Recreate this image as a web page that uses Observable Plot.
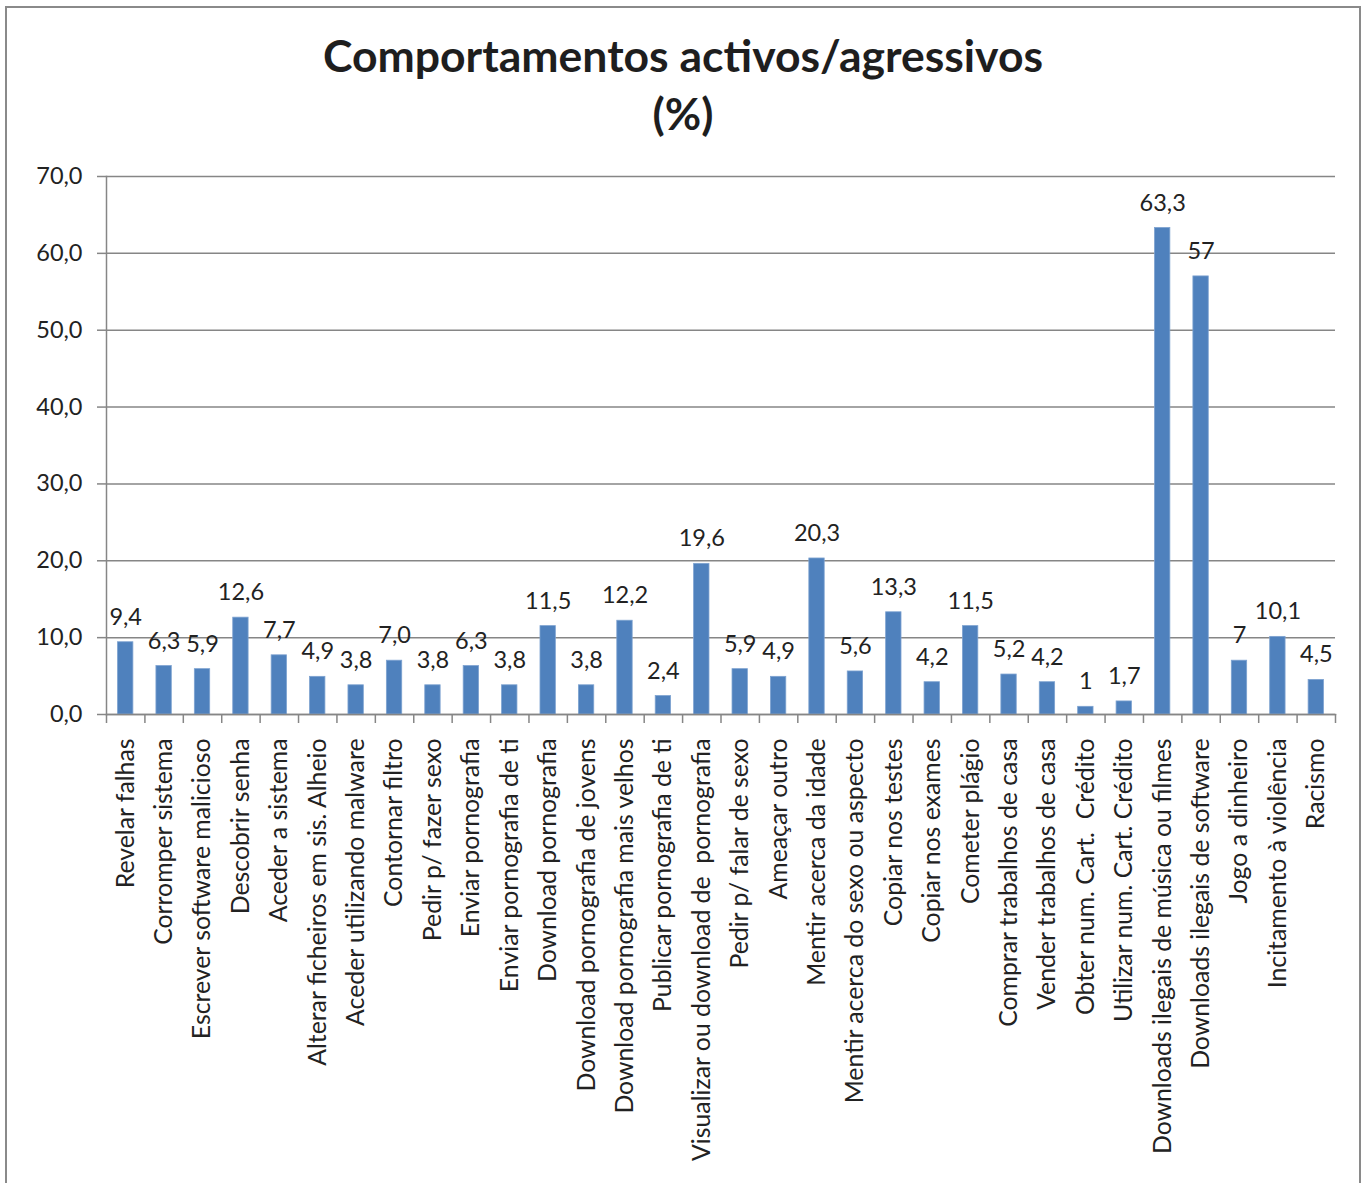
<!DOCTYPE html>
<html>
<head>
<meta charset="utf-8">
<script src="https://cdn.jsdelivr.net/npm/d3@7"></script>
<script src="https://cdn.jsdelivr.net/npm/@observablehq/plot@0.6"></script>
<style>
  html, body { margin: 0; padding: 0; background: #fff; }
  #wrap { position: relative; width: 1366px; height: 1183px; overflow: hidden; font-family: Lato, sans-serif; }
  #border { position: absolute; left: 5px; top: 6px; width: 1356px; height: 1200px; border: 2px solid #8a8a8a; box-sizing: border-box; }
  #title { position: relative; height: 150px; box-sizing: border-box; padding-top: 26px; text-align: center;
           font-family: Lato, sans-serif; font-weight: bold; font-size: 44.5px; line-height: 58px; color: #1e1e1e; }
  #chart { position: relative; }
</style>
</head>
<body>
<div id="wrap">
  <div id="border"></div>
  <div id="title">Comportamentos activos/agressivos<br>(%)</div>
  <div id="chart"></div>
</div>
<script>
const categories = [
  "Revelar falhas", "Corromper sistema", "Escrever software malicioso", "Descobrir senha",
  "Aceder a sistema", "Alterar ficheiros em sis. Alheio", "Aceder utilizando malware", "Contornar filtro",
  "Pedir p/ fazer sexo", "Enviar pornografia", "Enviar pornografia de ti", "Download pornografia",
  "Download pornografia de jovens", "Download pornografia mais velhos", "Publicar pornografia de ti",
  "Visualizar ou download de  pornografia", "Pedir p/ falar de sexo", "Ameaçar outro",
  "Mentir acerca da idade", "Mentir acerca do sexo ou aspecto", "Copiar nos testes", "Copiar nos exames",
  "Cometer plágio", "Comprar trabalhos de casa", "Vender trabalhos de casa", "Obter num. Cart.  Crédito",
  "Utilizar num. Cart. Crédito", "Downloads ilegais de música ou filmes", "Downloads ilegais de software",
  "Jogo a dinheiro", "Incitamento à violência", "Racismo"
];
const values = [9.4, 6.3, 5.9, 12.6, 7.7, 4.9, 3.8, 7.0, 3.8, 6.3, 3.8, 11.5, 3.8, 12.2, 2.4, 19.6,
                5.9, 4.9, 20.3, 5.6, 13.3, 4.2, 11.5, 5.2, 4.2, 1, 1.7, 63.3, 57, 7, 10.1, 4.5];
const valueLabels = ["9,4", "6,3", "5,9", "12,6", "7,7", "4,9", "3,8", "7,0", "3,8", "6,3", "3,8", "11,5",
                     "3,8", "12,2", "2,4", "19,6", "5,9", "4,9", "20,3", "5,6", "13,3", "4,2", "11,5", "5,2",
                     "4,2", "1", "1,7", "63,3", "57", "7", "10,1", "4,5"];
const yTicks = [0, 10, 20, 30, 40, 50, 60, 70];

const data = categories.map((c, i) => ({cat: c, value: values[i], label: valueLabels[i]}));

const W = 1366, H = 1033;
const mL = 106, mR = 31, mT = 26, mB = 469;
const halfStep = (W - mL - mR) / categories.length / 2;
const gray = "#868686";
const textColor = "#222";

const chart = Plot.plot({
  width: W,
  height: H,
  marginLeft: mL,
  marginRight: mR,
  marginTop: mT,
  marginBottom: mB,
  style: {fontFamily: "Lato, sans-serif", fontSize: "23.5px", color: textColor, background: "transparent", overflow: "visible"},
  x: {domain: categories, type: "band", paddingInner: 0.6, paddingOuter: 0.3, round: false, label: null},
  y: {domain: [0, 70], label: null},
  marks: [
    Plot.gridY(yTicks, {stroke: gray, strokeOpacity: 1, strokeWidth: 1.5}),
    Plot.axisY(yTicks, {tickFormat: d => d.toFixed(1).replace(".", ","), tickSize: 9, tickPadding: 15,
                        stroke: gray, strokeWidth: 1.5, fontSize: 23.5, fill: textColor, label: null}),
    Plot.barY(data, {x: "cat", y: "value", fill: "#4F81BD", stroke: "#7da2d0", strokeWidth: 0.8}),
    Plot.frame({anchor: "left", stroke: gray, strokeWidth: 1.5}),
    Plot.frame({anchor: "bottom", stroke: gray, strokeWidth: 1.5}),
    Plot.axisX(categories, {tickSize: 9, dx: -halfStep, stroke: gray, strokeWidth: 1.5, tickFormat: () => "", label: null}),
    Plot.axisX([categories[categories.length - 1]], {tickSize: 9, dx: halfStep, stroke: gray, strokeWidth: 1.5, tickFormat: () => "", label: null}),
    Plot.axisX(categories, {tickSize: 0, tickPadding: 24, tickRotate: -90, fontSize: 24.8, fill: textColor, label: null}),
    Plot.text(data, {x: "cat", y: "value", text: "label", dy: -25, fontSize: 23.5, fill: textColor})
  ]
});
document.getElementById("chart").appendChild(chart);
</script>
</body>
</html>
